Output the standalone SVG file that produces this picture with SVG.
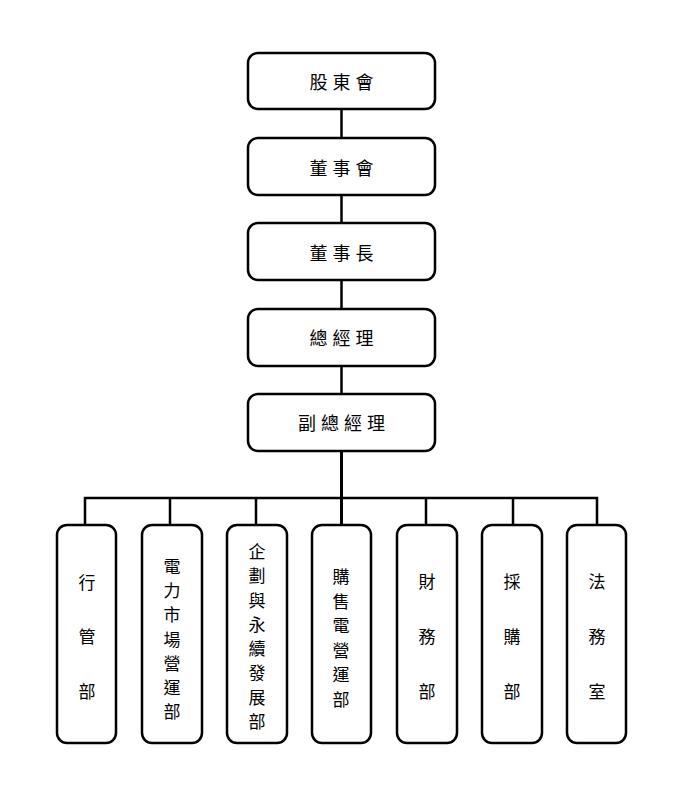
<svg xmlns="http://www.w3.org/2000/svg" width="678" height="791" viewBox="0 0 678 791">
<style>
.box{fill:#fff;stroke:#000;stroke-width:2.5}
.t{font-family:"Noto Sans CJK TC","Noto Sans CJK SC",sans-serif;font-size:18px;fill:#000;text-anchor:middle;dominant-baseline:central;letter-spacing:5px}
.v{font-family:"Noto Sans CJK TC","Noto Sans CJK SC",sans-serif;font-size:17px;fill:#000;text-anchor:middle;dominant-baseline:central}
.c{stroke:#000;stroke-width:2.5;fill:none}
</style>
<rect width="678" height="791" fill="#fff"/>
<g id="connectors">
<line class="c" x1="341.5" y1="109" x2="341.5" y2="138"/>
<line class="c" x1="341.5" y1="195" x2="341.5" y2="223"/>
<line class="c" x1="341.5" y1="280" x2="341.5" y2="309"/>
<line class="c" x1="341.5" y1="366" x2="341.5" y2="394"/>
<line class="c" x1="341.5" y1="451" x2="341.5" y2="525" style="stroke-width:3"/>
<polyline class="c" points="85,525 85,498 597,498 597,525"/>
<line class="c" x1="170" y1="498" x2="170" y2="525"/>
<line class="c" x1="256" y1="498" x2="256" y2="525"/>
<line class="c" x1="426" y1="498" x2="426" y2="525"/>
<line class="c" x1="513" y1="498" x2="513" y2="525"/>
</g>
<g id="n1"><rect class="box" x="248" y="53" width="187" height="56" rx="10"/><text class="t" x="344" y="81">股東會</text></g>
<g id="n2"><rect class="box" x="248" y="138" width="187" height="57" rx="10"/><text class="t" x="344" y="167">董事會</text></g>
<g id="n3"><rect class="box" x="248" y="223" width="187" height="57" rx="10"/><text class="t" x="344" y="252">董事長</text></g>
<g id="n4"><rect class="box" x="248" y="309" width="187" height="57" rx="10"/><text class="t" x="344" y="337">總經理</text></g>
<g id="n5"><rect class="box" x="248" y="394" width="187" height="57" rx="10"/><text class="t" x="344" y="422">副總經理</text></g>
<g id="d1"><rect class="box" x="57" y="525" width="59" height="218" rx="10"/>
<text class="v" x="87" y="581">行</text><text class="v" x="87" y="635">管</text><text class="v" x="87" y="690">部</text></g>
<g id="d2"><rect class="box" x="142" y="525" width="60" height="218" rx="10"/>
<text class="v" x="172" y="565">電</text><text class="v" x="172" y="589">力</text><text class="v" x="172" y="613">市</text><text class="v" x="172" y="638">場</text><text class="v" x="172" y="662">營</text><text class="v" x="172" y="686">運</text><text class="v" x="172" y="710">部</text></g>
<g id="d3"><rect class="box" x="227" y="525" width="60" height="218" rx="10"/>
<text class="v" x="257" y="550">企</text><text class="v" x="257" y="574">劃</text><text class="v" x="257" y="599">與</text><text class="v" x="257" y="623">永</text><text class="v" x="257" y="647">續</text><text class="v" x="257" y="671">發</text><text class="v" x="257" y="696">展</text><text class="v" x="257" y="720">部</text></g>
<g id="d4"><rect class="box" x="312" y="525" width="59" height="218" rx="10"/>
<text class="v" x="341" y="575">購</text><text class="v" x="341" y="600">售</text><text class="v" x="341" y="624">電</text><text class="v" x="341" y="649">營</text><text class="v" x="341" y="673">運</text><text class="v" x="341" y="698">部</text></g>
<g id="d5"><rect class="box" x="397" y="525" width="60" height="218" rx="10"/>
<text class="v" x="427" y="580">財</text><text class="v" x="427" y="635">務</text><text class="v" x="427" y="690">部</text></g>
<g id="d6"><rect class="box" x="482" y="525" width="60" height="218" rx="10"/>
<text class="v" x="512" y="580">採</text><text class="v" x="512" y="635">購</text><text class="v" x="512" y="690">部</text></g>
<g id="d7"><rect class="box" x="567" y="525" width="59" height="218" rx="10"/>
<text class="v" x="597" y="580">法</text><text class="v" x="597" y="635">務</text><text class="v" x="597" y="690">室</text></g>
</svg>
